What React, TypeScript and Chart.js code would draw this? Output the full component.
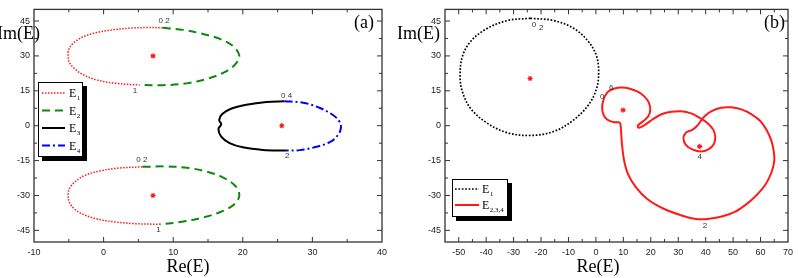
import React, { useEffect, useRef } from "react";
import { Chart, registerables } from "chart.js";
Chart.register(...registerables);

type P = [number, number];

// ---------------- axes ----------------
const aXTicks = [-10, 0, 10, 20, 30, 40];
const bXTicks = [-50, -40, -30, -20, -10, 0, 10, 20, 30, 40, 50, 60, 70];
const yTicks = [-45, -30, -15, 0, 15, 30, 45];
const aXRange: P = [-10, 40];
const bXRange: P = [-55, 70];
const yRange: P = [-50, 50];

// ---------------- panel (a) ----------------
const aUpperE1: P[] = [
  [8.5, 42.1], [6.1, 42.2], [3.7, 41.9], [1.3, 41.2], [-0.9, 40.1], [-2.8, 38.4], [-4.2, 35.9],
  [-5.0, 32.8], [-5.1, 30.0], [-4.9, 27.1], [-4.1, 24.3], [-2.8, 21.7], [-0.9, 19.6], [1.8, 18.2], [5.1, 17.5],
];
const aUpperE2: P[] = [
  [8.5, 42.1], [11.4, 41.2], [14.2, 39.5], [16.7, 37.3], [18.6, 34.2], [19.5, 30.0], [18.8, 26.0],
  [17.1, 22.6], [14.7, 20.0], [11.9, 18.2], [8.5, 17.4], [5.1, 17.5],
];
const aLowerE1: P[] = [
  [5.6, -17.7], [2.2, -18.2], [-0.6, -19.5], [-2.7, -21.4], [-4.1, -24.1], [-4.9, -27.0], [-5.1, -30.0],
  [-4.9, -33.0], [-4.2, -35.8], [-2.8, -38.3], [-0.8, -40.2], [1.6, -41.4], [4.5, -42.1], [8.0, -42.4],
];
const aLowerE2: P[] = [
  [5.6, -17.7], [8.8, -17.5], [12.0, -18.1], [14.8, -19.7], [17.2, -22.3], [18.9, -25.8], [19.5, -30.0],
  [18.7, -34.0], [16.7, -37.2], [14.2, -39.5], [11.3, -41.3], [8.0, -42.4],
];
const aE3: P[] = [
  [26.0, 10.5], [23.4, 10.2], [20.5, 9.0], [18.3, 7.3], [17.0, 4.9], [16.6, 2.4], [16.9, 0.6],
  [16.5, -1.4], [16.9, -4.7], [18.1, -7.5], [20.0, -9.3], [22.9, -10.4], [26.2, -10.7],
];
const aE4: P[] = [
  [26.0, 10.5], [28.7, 9.9], [31.1, 7.6], [33.0, 4.5], [33.9, 1.7], [34.1, -0.8], [33.7, -3.9],
  [32.5, -7.1], [30.3, -9.3], [28.2, -10.5], [26.2, -10.7],
];
const aStars: P[] = [[7.1, 30.0], [7.1, -30.0], [25.6, 0.0]];
const aNotes: { text: string; x: number; y: number }[] = [
  { text: "0 2", x: 8.7, y: 45.3 },
  { text: "1", x: 4.5, y: 15.1 },
  { text: "0 4", x: 26.3, y: 13.0 },
  { text: "2", x: 26.4, y: -13.1 },
  { text: "0 2", x: 5.5, y: -14.5 },
  { text: "1", x: 7.9, y: -44.6 },
];

// ---------------- panel (b) ----------------
const bE1: P[] = [
  [-23.9, 46.2], [-15.4, 45.2], [-8.2, 41.9], [-2.8, 36.3], [0.2, 30.0], [1.0, 22.9], [0.2, 15.8],
  [-2.8, 8.8], [-8.2, 2.4], [-15.4, -2.5], [-23.9, -4.2], [-32.3, -3.0], [-39.5, 1.0], [-45.6, 7.3],
  [-48.8, 15.1], [-49.5, 22.2], [-48.6, 30.0], [-45.6, 36.3], [-40.1, 41.5], [-32.3, 45.2], [-23.9, 46.2],
];
const bE234: P[] = [
  [3.1, 12.4], [4.6, 14.8], [6.8, 16.0], [9.4, 16.4], [12.4, 15.9], [15.4, 14.5], [17.8, 12.4],
  [19.4, 9.6], [19.8, 6.7], [19.2, 4.3], [17.8, 2.5], [16.3, 1.1], [15.3, 0.1], [15.4, -0.8],
  [16.6, -0.5], [18.4, 0.8], [20.9, 2.9], [23.9, 4.9], [27.5, 6.0], [31.1, 6.2], [34.7, 5.3],
  [37.7, 3.5], [40.7, 1.1], [42.8, -1.8], [43.5, -5.0], [42.9, -8.1], [41.0, -10.2], [38.3, -11.1],
  [35.1, -10.2], [32.7, -8.1], [31.9, -5.3], [32.9, -2.9], [35.1, -1.8], [36.9, 0.0], [38.3, 2.2],
  [39.8, 4.3], [42.2, 6.3], [45.6, 7.7], [49.2, 7.9], [53.0, 7.0], [56.6, 5.0], [59.8, 2.1],
  [62.2, -1.8], [63.9, -6.3], [64.8, -10.9], [65.0, -15.0], [64.0, -20.0], [61.8, -25.3], [58.6, -29.8],
  [55.0, -33.6], [50.8, -36.9], [46.2, -38.9], [41.3, -40.0], [36.5, -40.1], [30.5, -38.3], [24.5, -35.6],
  [18.7, -31.5], [14.6, -26.5], [11.7, -20.8], [10.2, -14.5], [9.5, -8.0], [9.2, -3.2], [9.0, 0.1],
  [8.6, 1.4], [7.0, 1.5], [5.0, 2.1], [3.4, 3.5], [2.5, 5.7], [2.3, 8.8], [3.1, 12.4],
];
const bStars: P[] = [[-24.0, 20.3], [9.9, 6.7], [37.8, -8.9]];
const bNotes: { text: string; x: number; y: number }[] = [
  { text: "0", x: -22.6, y: 43.3 },
  { text: "2", x: -19.9, y: 42.1 },
  { text: "0", x: 2.3, y: 12.6 },
  { text: "6", x: 5.6, y: 16.1 },
  { text: "4", x: 37.8, y: -13.4 },
  { text: "2", x: 39.7, y: -43.2 },
];

// ---------------- styling ----------------
const RED = "#ff1a1a";
const GREEN = "#0a8a0a";
const BLUE = "#0000f0";
const H = 278;
const SANS = "'Liberation Sans', Arial, sans-serif";
const SERIF = "'Liberation Serif', 'Times New Roman', serif";

const xy = (pts: P[]) => pts.map(([x, y]) => ({ x, y }));
const mids = (t: number[]) => t.slice(1).map((v, i) => (v + t[i]) / 2);

const curve = (label: string, pts: P[], color: string, width: number, dash: number[]) => ({
  label,
  data: xy(pts),
  showLine: true,
  borderColor: color,
  borderWidth: width,
  borderDash: dash,
  borderCapStyle: "butt",
  tension: 0.35,
  pointRadius: 0,
  fill: false,
});
const stars = (pts: P[]) => ({
  label: "centre",
  data: xy(pts),
  showLine: false,
  pointStyle: "star",
  pointRadius: 2.6,
  pointBorderWidth: 1.1,
  borderColor: RED,
  backgroundColor: RED,
});

interface LegendSpec {
  box: [number, number, number, number];
  rows: { ds: number; sub: string; y: number }[];
  lineX: [number, number];
  textX: number;
}
interface Deco {
  majorX: number[];
  minorX: number[];
  tag: string;
  tagX: number;
  imX: number;
  reX: number;
  notes: { text: string; x: number; y: number }[];
  legend: LegendSpec;
}

const decoPlugin = (o: Deco) => ({
  id: "deco",
  afterDraw(chart: any) {
    const { ctx, chartArea: ca, scales } = chart;
    const xs = scales.x, ys = scales.y;
    const seg = (x1: number, y1: number, x2: number, y2: number) => {
      ctx.beginPath(); ctx.moveTo(x1, y1); ctx.lineTo(x2, y2); ctx.stroke();
    };
    ctx.save();
    ctx.setLineDash([]);
    // frame
    ctx.strokeStyle = "#333";
    ctx.lineWidth = 1.3;
    ctx.strokeRect(ca.left, ca.top, ca.right - ca.left, ca.bottom - ca.top);
    // inward ticks
    ctx.lineWidth = 1;
    const xt = (vals: number[], len: number) => vals.forEach((v) => {
      const p = xs.getPixelForValue(v);
      if (p < ca.left + 1 || p > ca.right - 1) return;
      seg(p, ca.bottom, p, ca.bottom - len); seg(p, ca.top, p, ca.top + len);
    });
    const yt = (vals: number[], len: number) => vals.forEach((v) => {
      const p = ys.getPixelForValue(v);
      if (p < ca.top + 1 || p > ca.bottom - 1) return;
      seg(ca.left, p, ca.left + len, p); seg(ca.right, p, ca.right - len, p);
    });
    xt(o.majorX, 5); xt(o.minorX, 3);
    yt(yTicks, 5); yt(mids(yTicks), 3);
    // point annotations
    ctx.fillStyle = "#333";
    ctx.font = `8px ${SANS}`;
    ctx.textAlign = "center";
    ctx.textBaseline = "middle";
    o.notes.forEach((n) => ctx.fillText(n.text, xs.getPixelForValue(n.x), ys.getPixelForValue(n.y)));
    // legend
    const L = o.legend;
    const [x0, y0, x1, y1] = L.box;
    ctx.fillStyle = "#000";
    ctx.fillRect(x0 + 4, y0 + 4, x1 - x0, y1 - y0);
    ctx.fillStyle = "#fff";
    ctx.fillRect(x0, y0, x1 - x0, y1 - y0);
    ctx.strokeStyle = "#000";
    ctx.lineWidth = 1;
    ctx.strokeRect(x0 + 0.5, y0 + 0.5, x1 - x0 - 1, y1 - y0 - 1);
    L.rows.forEach((r) => {
      const ds = chart.data.datasets[r.ds];
      ctx.strokeStyle = ds.borderColor;
      ctx.lineWidth = ds.borderWidth;
      ctx.setLineDash(ds.borderDash || []);
      seg(L.lineX[0], r.y, L.lineX[1], r.y);
      ctx.setLineDash([]);
      ctx.fillStyle = "#000";
      ctx.textAlign = "left";
      ctx.textBaseline = "alphabetic";
      ctx.font = `12px ${SERIF}`;
      ctx.fillText("E", L.textX, r.y + 4);
      const w = ctx.measureText("E").width;
      ctx.font = `7px ${SERIF}`;
      ctx.fillText(r.sub, L.textX + w + 0.5, r.y + 7);
    });
    // titles
    ctx.fillStyle = "#000";
    ctx.font = `18px ${SERIF}`;
    ctx.textBaseline = "middle";
    ctx.textAlign = "center";
    ctx.fillText("Re(E)", o.reX, 267);
    ctx.textAlign = "right";
    ctx.fillText("Im(E)", o.imX, 34);
    ctx.fillText(o.tag, o.tagX, 23);
    ctx.restore();
  },
});

const makeOptions = (xr: P, xTicks: number[], yWidth: number, rightPad: number) => ({
  animation: false,
  responsive: false,
  maintainAspectRatio: false,
  events: [],
  layout: { padding: { top: 6, right: rightPad, left: 0, bottom: 0 } },
  plugins: { legend: { display: false }, tooltip: { enabled: false } },
  scales: {
    x: {
      type: "linear",
      min: xr[0],
      max: xr[1],
      grid: { display: false, drawTicks: false },
      border: { display: false },
      afterBuildTicks: (s: any) => { s.ticks = xTicks.map((v) => ({ value: v })); },
      afterFit: (s: any) => { s.height = 36; },
      ticks: { padding: 5, color: "#222", maxRotation: 0, autoSkip: false, font: { family: SANS, size: 9 } },
    },
    y: {
      type: "linear",
      min: yRange[0],
      max: yRange[1],
      grid: { display: false, drawTicks: false },
      border: { display: false },
      afterBuildTicks: (s: any) => { s.ticks = yTicks.map((v) => ({ value: v })); },
      afterFit: (s: any) => { s.width = yWidth; },
      ticks: { padding: 4, color: "#222", autoSkip: false, font: { family: SANS, size: 9 } },
    },
  },
});

export default function App() {
  const refA = useRef<HTMLCanvasElement>(null);
  const refB = useRef<HTMLCanvasElement>(null);

  useEffect(() => {
    const dotted = [1.5, 1.5];
    const chartA = new Chart(refA.current as HTMLCanvasElement, {
      type: "scatter",
      data: {
        datasets: [
          curve("E1", aUpperE1, RED, 1.5, dotted),
          curve("E2", aUpperE2, GREEN, 2, [8, 5]),
          curve("E1", aLowerE1, RED, 1.5, dotted),
          curve("E2", aLowerE2, GREEN, 2, [8, 5]),
          curve("E3", aE3, "#000", 2, []),
          curve("E4", aE4, BLUE, 2, [8, 3, 2, 3]),
          stars(aStars),
        ] as any,
      },
      options: makeOptions(aXRange, aXTicks, 34, 16) as any,
      plugins: [
        decoPlugin({
          majorX: aXTicks,
          minorX: mids(aXTicks),
          tag: "(a)",
          tagX: 374,
          imX: 40,
          reX: 188,
          notes: aNotes,
          legend: {
            box: [38, 82, 83, 157],
            rows: [
              { ds: 0, sub: "1", y: 93 },
              { ds: 1, sub: "2", y: 110.5 },
              { ds: 4, sub: "3", y: 128 },
              { ds: 5, sub: "4", y: 145.5 },
            ],
            lineX: [42, 65],
            textX: 69,
          },
        }) as any,
      ],
    });

    const chartB = new Chart(refB.current as HTMLCanvasElement, {
      type: "scatter",
      data: {
        datasets: [
          curve("E1", bE1, "#000", 1.7, [1.7, 1.7]),
          curve("E2,3,4", bE234, RED, 2, []),
          stars(bStars),
        ] as any,
      },
      options: makeOptions(bXRange, bXTicks, 47, 7) as any,
      plugins: [
        decoPlugin({
          majorX: bXTicks,
          minorX: [...mids(bXTicks), -55],
          tag: "(b)",
          tagX: 387,
          imX: 42,
          reX: 200,
          notes: bNotes,
          legend: {
            box: [54, 179, 110, 217],
            rows: [
              { ds: 0, sub: "1", y: 189 },
              { ds: 1, sub: "2,3,4", y: 205 },
            ],
            lineX: [57, 81],
            textX: 84,
          },
        }) as any,
      ],
    });

    return () => {
      chartA.destroy();
      chartB.destroy();
    };
  }, []);

  return (
    <div style={{ position: "fixed", left: 0, top: 0, width: 798, height: H, background: "#fff" }}>
      <canvas ref={refA} width={398} height={H} style={{ position: "absolute", left: 0, top: 0, width: 398, height: H }} />
      <canvas ref={refB} width={400} height={H} style={{ position: "absolute", left: 398, top: 0, width: 400, height: H }} />
    </div>
  );
}
